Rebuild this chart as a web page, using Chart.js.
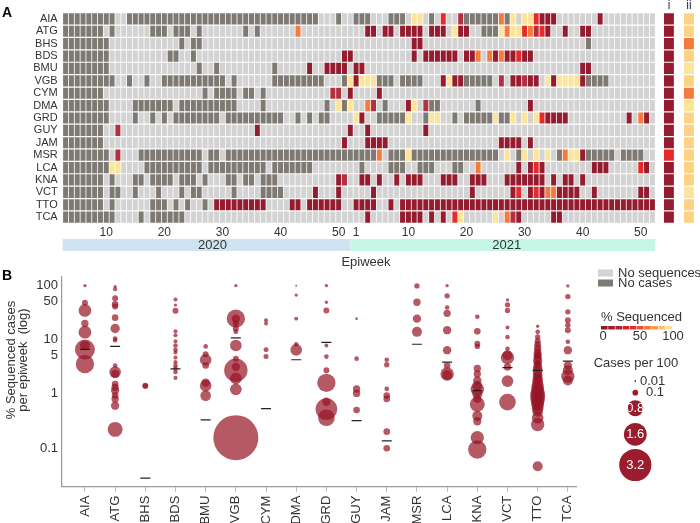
<!DOCTYPE html>
<html lang="en">
<head>
<meta charset="UTF-8">
<title>Sequencing coverage by epiweek</title>
<script src="https://cdn.jsdelivr.net/npm/chart.js"></script>
<style>
  body { margin: 0; background: #fff; }
  #wrap { position: relative; width: 700px; height: 523px; }
  #wrap canvas { position: absolute; left: 0; top: 0; }
</style>
</head>
<body>
<div id="wrap">
  <canvas id="heatChart" width="700" height="523"></canvas>
  <canvas id="bubbleChart" width="700" height="523"></canvas>
</div>
<script>
// ---- data ----
const countries = ['AIA','ATG','BHS','BDS','BMU','VGB','CYM','DMA','GRD','GUY','JAM','MSR','LCA','KNA','VCT','TTO','TCA'];

// heatmap rows, run-length coded per epiweek column (2020 wk3 .. 2021 wk52)
// n = no cases, . = no sequences, d/m/r/o/y = % sequenced (low -> high)
const heatRows = [
  'n9 .2 n33 .3 n1 .2 n3 .3 n3 .1 y2 .1 n1 .1 r1 .2 m1 n6 o1 n1 y1 .1 y2 r1 d3 .7 d1 .9',
  'n7 .1 n1 .6 n3 .1 n3 .1 n1 .7 n1 .1 n1 .6 o1 .11 d2 .1 d2 .1 d4 .1 d3 .1 y1 d2 .2 n3 y1 o1 y2 r1 o1 m1 r1 d1 .2 d1 .2 d2 .11',
  'n8 .12 n1 .1 n2 .36 d2 .28 n1 .11',
  'n8 .10 n2 .2 n1 .25 d2 .10 d1 .1 d6 .1 d2 o1 .1 o1 d1 o1 d2 r1 d2 .21',
  'n8 .15 n1 .2 n1 .9 n1 .5 d1 .2 d4 .1 d2 .37 d2 .11',
  'n9 .2 n1 .2 n1 .2 n11 .1 n1 .6 n9 .3 n1 y1 d1 y3 n3 .1 n4 .3 d1 y1 d2 n5 .1 m1 .1 d2 m1 d2 .1 y1 d1 y4 d1 n4 .8',
  'n7 .17 n1 .1 n4 .1 n2 .1 n1 .11 m2 .1 d1 .4 d1 .47',
  'n8 .4 n7 .1 n10 .4 n1 .10 n1 .1 y1 n1 y1 .2 o1 m1 .1 n1 .3 d1 y1 .1 m1 n2 .6 n1 .8 d1 .21',
  'n8 .4 n1 .2 n1 .1 n1 .1 n8 .1 n10 .2 n1 .1 n1 .1 n2 .4 y1 d1 .2 n5 y1 .2 n1 y2 .2 n1 .1 n5 y1 n2 y1 .1 y1 .1 y1 r1 d4 .10 d1 .1 o1 d1 .1',
  'n7 .2 m1 .23 d1 .15 d1 .2 d1 .9 d1 .39',
  'n7 .41 d1 .3 d4 .19 d4 .1 d1 .21',
  'n8 .1 m1 .3 n11 .1 n2 .1 n26 o1 .1 n3 y1 n15 .1 y1 .1 n1 y1 .1 y1 .1 y1 .1 n1 o1 y2 d1 n5 .1 n4 .2',
  'n8 y2 .4 n10 .1 n10 .1 n7 .8 n1 .4 n3 .2 n3 .3 n2 .2 o1 .6 d1 .1 d1 r1 d1 .8 d3 .5 r1 d1 .1',
  'n7 .1 n1 .3 n2 .1 n4 .1 n3 .1 n1 .3 n2 .1 n2 .1 n3 .10 d1 m1 .2 d2 .1 d1 .2 d1 .1 d3 .3 d3 .2 d3 .3 d7 .1 d1 .1 d2 .1 d1 .12',
  'n7 .1 n2 .2 n1 .3 n1 .3 n1 .1 n2 .5 n1 .4 n4 .5 d1 .3 d1 .5 d1 .16 d1 .6 d1 r1 .1 d1 r1 d1 o2 d4 .2 d1 .7 d2 .1',
  'n7 .1 n1 .6 n3 .1 n1 .1 n1 .2 n1 .1 d9 .4 d2 .1 d6 .2 d4 .2 d1 .1 d44',
  'n9 .4 n1 .1 n6 .31 d1 .5 d4 .1 d1 .1 d1 .1 r1 y1 .5 y1 .1 o1 m1 d1 .5 d2 .16'
];
const summaryI  = ['d','d','d','d','d','d','d','d','d','d','d','r','d','d','d','d','d'];
const summaryII = ['l','l','o','l','y','l','o','y','l','l','l','l','l','l','y','l','l'];

const weekTickCols   = [7.5, 17.5, 27.5, 37.5, 47.5, 50.5, 59.5, 69.5, 79.5, 89.5, 99.5];
const weekTickLabels = ['10','20','30','40','50','1','10','20','30','40','50'];

// panel B: [% sequenced, cases per 100] per epiweek
const bAIA = [[97,0.034],[47,0.11],[34,0.5],[19.5,0.166],[13.5,0.5],[7.7,0.31],[6.5,1.23],[3.5,1.04]];
const bATG = [[93,0.034],[83,0.05],[57,0.11],[44,0.137],[40,0.11],[25,0.137],[15.8,0.27],[10.3,0.067],[9.6,0.067],[3.3,0.067],[2.5,0.42],[2.3,0.214],[1.5,0.137],[1.3,0.166],[1.14,0.214],[0.92,0.137],[0.8,0.166],[0.6,0.214],[0.22,0.69]];
const bBHS = [[1.4,0.11],[1.38,0.088]];
const bBDS = [[54,0.05],[42.6,0.034],[33.5,0.11],[14,0.05],[11.9,0.05],[9.2,0.05],[7.7,0.067],[6.4,0.067],[5.7,0.05],[4.6,0.05],[3.8,0.05],[3.3,0.067],[2.9,0.067],[2.5,0.067],[1.95,0.05]];
const bBMU = [[7.4,0.067],[5.3,0.11],[4.2,0.42],[3.3,0.137],[1.6,0.214],[1.4,0.42],[0.92,0.35]];
const bVGB = [[97,0.034],[24,1.04],[24,0.214],[19.5,0.11],[15.8,0.11],[13.7,0.077],[7.7,0.42],[4.4,0.11],[3.1,0.214],[2.7,1.68],[1.9,0.42],[1.2,0.42],[0.155,6.25]];
const bCYM = [[22.5,0.049],[19.5,0.049],[6.4,0.077],[4.8,0.077]];
const bDMA = [[97,0.012],[65,0.034],[24,0.049],[8.1,0.067],[6.4,0.42]];
const bGRD = [[97,0.034],[48,0.034],[34,0.11],[7.7,0.049],[4.8,0.067],[2.7,0.11],[1.58,1.04],[0.71,0.214],[0.52,1.45],[0.36,0.86]];
const bGUY = [[24,0.022],[4.4,0.067],[1.22,0.166],[1.01,0.166],[0.5,0.137]];
const bJAM = [[4.2,0.067],[3.4,0.088],[1.22,0.067],[0.92,0.137],[0.8,0.137],[0.2,0.137],[0.099,0.137]];
const bMSR = [[96,0.088],[48,0.166],[24,0.214],[13.7,0.31]];
const bLCA = [[97,0.034],[63,0.088],[38.5,0.067],[30,0.166],[14.7,0.214],[6.3,0.214],[3.3,0.137],[2.3,0.55],[2.2,0.3]];
const bKNA = [[26,0.067],[14,0.137],[8.3,0.11],[7.4,0.088],[2.9,0.166],[2.3,0.166],[1.74,0.214],[1.4,0.31],[1.2,0.55],[0.99,0.31],[0.8,0.214],[0.64,0.69],[0.39,0.31],[0.31,0.214],[0.155,0.55],[0.094,1.04]];
const bVCT = [[53,0.034],[43,0.088],[34,0.088],[16.5,0.049],[11,0.067],[6.7,0.067],[5.1,0.31],[4.6,0.55],[3.1,0.166],[1.7,0.42],[0.7,0.86]];
const bTTO = [[17.4,0.034],[13.7,0.067],[11,0.088],[9.3,0.11],[8.1,0.137],[7,0.166],[6.1,0.166],[5.3,0.214],[5,0.137],[4.6,0.214],[4,0.27],[3.7,0.11],[3.4,0.214],[3,0.27],[2.6,0.31],[2.25,0.27],[2,0.166],[1.95,0.31],[1.7,0.35],[1.47,0.42],[1.27,0.5],[1.1,0.55],[0.96,0.69],[0.83,0.69],[0.72,0.55],[0.63,0.5],[0.54,0.42],[0.47,0.35],[0.36,0.42],[0.27,0.55],[0.046,0.31]];
const bTCA = [[96,0.034],[61,0.088],[32,0.088],[22.5,0.11],[18.2,0.088],[14.7,0.11],[9,0.067],[6.3,0.214],[3.3,0.214],[2.7,0.31],[2.1,0.55],[1.75,0.31]];
const bubbleSets = [bAIA,bATG,bBHS,bBDS,bBMU,bVGB,bCYM,bDMA,bGRD,bGUY,bJAM,bMSR,bLCA,bKNA,bVCT,bTTO,bTCA];
const medians = [6.5, 7.4, 0.028, 2.86, 0.33, 10.6, 0.53, 4.2, 8.8, 0.32, 0.135, 8.1, 3.8, 1.14, 3.0, 2.67, 3.96];

const yTicksB = [0.1, 1, 5, 10, 50, 100];
const sizeLegend = [0.01, 0.1, 0.8, 1.6, 3.2];
const pctScale = ['#8c1a2b','#a01c2e','#b81f30','#d0232f','#e52c2b','#f0512f','#f57537','#f89b47','#fbc062','#fde39a'];

// ---- styling ----
const FONT = "'Liberation Sans', Arial, sans-serif";
const TEXT = '#333';
const cellColors = { n: '#7e7a73', '.': '#d3d3d3', d: '#951b2e', m: '#b3303f', r: '#e62a2a', o: '#f47b3b', y: '#fde49b', l: '#fdd283' };
const bubbleFill = 'rgba(150, 18, 36, 0.7)';
const bubbleR = v => 9 * Math.sqrt(v);

Chart.defaults.font.family = FONT;
Chart.defaults.color = TEXT;

function expandRow(rle) {
  const out = [];
  rle.trim().split(/\s+/).forEach(tok => {
    const k = tok[0], n = parseInt(tok.slice(1), 10);
    for (let i = 0; i < n; i++) out.push(k);
  });
  return out;
}
const cells = heatRows.map(expandRow);
const NCOL = 102;

// ---- panel A: heatmap ----
const heatDatasets = [];
for (let c = 0; c < NCOL; c++) {
  heatDatasets.push({
    data: countries.map(() => [c + 0.07, c + 0.93]),
    backgroundColor: cells.map(row => cellColors[row[c]] || cellColors['.'])
  });
}
// summary columns i and ii
heatDatasets.push({ data: countries.map(() => [103.49, 105.2]), backgroundColor: summaryI.map(k => cellColors[k]) });
heatDatasets.push({ data: countries.map(() => [106.93, 108.64]), backgroundColor: summaryII.map(k => cellColors[k]) });

const yearBands = {
  id: 'yearBands',
  afterDraw(chart) {
    const ctx = chart.ctx, x = chart.scales.x;
    const x0 = x.getPixelForValue(0), xs = x.getPixelForValue(49.5), x1 = x.getPixelForValue(102);
    ctx.save();
    ctx.fillStyle = '#cfe3f0';
    ctx.fillRect(x0, 239, xs - x0, 12);
    ctx.fillStyle = '#c6f6e7';
    ctx.fillRect(xs, 239, x1 - xs, 12);
    ctx.fillStyle = TEXT;
    ctx.font = '13px ' + FONT;
    ctx.textAlign = 'center';
    ctx.textBaseline = 'middle';
    ctx.fillText('2020', (x0 + xs) / 2 + 6, 245.5);
    ctx.fillText('2021', (xs + x1) / 2 + 4, 245.5);
    ctx.fillText('Epiweek', 366, 262);
    ctx.font = '12px ' + FONT;
    ctx.fillText('i', x.getPixelForValue(104.35), 6);
    ctx.fillText('ii', x.getPixelForValue(107.8), 6);
    ctx.font = 'bold 14px ' + FONT;
    ctx.textAlign = 'left';
    ctx.fillStyle = '#000';
    ctx.fillText('A', 2, 13);
    ctx.restore();
  }
};

new Chart(document.getElementById('heatChart'), {
  type: 'bar',
  data: { labels: countries, datasets: heatDatasets },
  options: {
    indexAxis: 'y',
    responsive: false,
    animation: false,
    events: [],
    layout: { padding: { top: 12.7, right: 6, left: 0, bottom: 0 } },
    datasets: { bar: { grouped: false, categoryPercentage: 1, barPercentage: 0.9, borderWidth: 0 } },
    plugins: { legend: { display: false }, tooltip: { enabled: false } },
    scales: {
      x: {
        type: 'linear', min: 0, max: 108.66,
        grid: { display: false, drawTicks: false }, border: { display: false },
        afterBuildTicks: s => { s.ticks = weekTickCols.map(v => ({ value: v })); },
        afterFit: s => { s.height = 523 - 223.3; },
        ticks: { autoSkip: false, maxRotation: 0, padding: 2, font: { size: 12 }, color: TEXT,
                 callback: (v, i) => weekTickLabels[i] }
      },
      y: {
        grid: { display: false, drawTicks: false }, border: { display: false },
        afterFit: s => { s.width = 62.7; },
        ticks: { autoSkip: false, padding: 5, font: { size: 11 }, color: TEXT }
      }
    }
  },
  plugins: [yearBands]
});

// ---- panel B: bubbles ----
const bubblePoints = [];
bubbleSets.forEach((set, i) => set.forEach(([pct, cases]) => bubblePoints.push({ x: i, y: pct, r: bubbleR(cases) })));

const panelBLegend = {
  id: 'panelBLegend',
  afterDraw(chart) {
    const ctx = chart.ctx;
    ctx.save();
    ctx.font = 'bold 14px ' + FONT;
    ctx.fillStyle = '#000';
    ctx.textBaseline = 'middle';
    ctx.fillText('B', 2, 276);

    // y axis title
    ctx.fillStyle = TEXT;
    ctx.font = '13px ' + FONT;
    ctx.save();
    ctx.translate(11, 360);
    ctx.rotate(-Math.PI / 2);
    ctx.textAlign = 'center';
    ctx.fillText('% Sequenced cases', 0, 0);
    ctx.fillText('per epiweek  (log)', 0, 12.5);
    ctx.restore();

    // heatmap key
    ctx.fillStyle = cellColors['.'];
    ctx.fillRect(598, 269.5, 15, 7);
    ctx.fillStyle = cellColors.n;
    ctx.fillRect(598, 279.5, 15, 7);
    ctx.fillStyle = TEXT;
    ctx.textAlign = 'left';
    ctx.fillText('No sequences', 618, 273.5);
    ctx.fillText('No cases', 618, 283.5);

    // % sequenced colour bar
    ctx.fillText('% Sequenced', 601, 317);
    const segW = 72 / pctScale.length;
    pctScale.forEach((col, i) => {
      ctx.fillStyle = col;
      ctx.fillRect(601 + i * segW, 326, segW - 0.6, 3.5);
    });
    ctx.fillStyle = TEXT;
    ctx.textAlign = 'center';
    ctx.fillText('0', 603, 336);
    ctx.fillText('50', 640, 336);
    ctx.fillText('100', 673, 336);

    // size key
    ctx.fillText('Cases per 100', 636, 363.5);
    const ys = [381, 392.7, 408.3, 434.3, 465];
    sizeLegend.forEach((v, i) => {
      const r = bubbleR(v);
      ctx.beginPath();
      ctx.arc(635.3, ys[i], r, 0, Math.PI * 2);
      ctx.fillStyle = '#9b1c2c';
      ctx.fill();
      if (i < 2) {
        ctx.fillStyle = TEXT;
        ctx.textAlign = 'left';
        ctx.fillText(String(v), i === 0 ? 640 : 646, ys[i]);
      } else {
        ctx.fillStyle = '#fff';
        ctx.textAlign = 'center';
        ctx.fillText(String(v), 635.3, ys[i] + 0.5);
      }
    });
    ctx.restore();
  }
};

new Chart(document.getElementById('bubbleChart'), {
  type: 'bubble',
  data: {
    datasets: [
      { type: 'scatter', order: 0, data: medians.map((m, i) => ({ x: i, y: m })),
        pointStyle: 'line', radius: 5, borderColor: '#222', borderWidth: 1.2, backgroundColor: '#222' },
      { order: 1, data: bubblePoints, backgroundColor: bubbleFill, borderWidth: 0 }
    ]
  },
  options: {
    responsive: false,
    animation: false,
    events: [],
    layout: { padding: { top: 277, right: 124, left: 0, bottom: 0 } },
    plugins: { legend: { display: false }, tooltip: { enabled: false } },
    scales: {
      x: {
        type: 'linear', min: -0.76, max: 16.27,
        grid: { display: true, drawOnChartArea: false, drawTicks: true, tickLength: 5, color: '#bbb' },
        border: { display: true, color: '#999', width: 1.2 },
        afterBuildTicks: s => { s.ticks = countries.map((c, i) => ({ value: i })); },
        afterFit: s => { s.height = 523 - 486.7; },
        ticks: { autoSkip: false, minRotation: 90, maxRotation: 90, padding: 4, font: { size: 13 }, color: TEXT,
                 callback: (v, i) => countries[i] }
      },
      y: {
        type: 'logarithmic', min: 0.0194, max: 140,
        grid: { display: false, drawTicks: false },
        border: { display: true, color: '#999', width: 1.2 },
        afterBuildTicks: s => { s.ticks = yTicksB.map(v => ({ value: v })); },
        afterFit: s => { s.width = 62; },
        ticks: { padding: 4, font: { size: 13 }, color: TEXT, callback: v => String(v) }
      }
    }
  },
  plugins: [panelBLegend]
});
</script>
</body>
</html>
